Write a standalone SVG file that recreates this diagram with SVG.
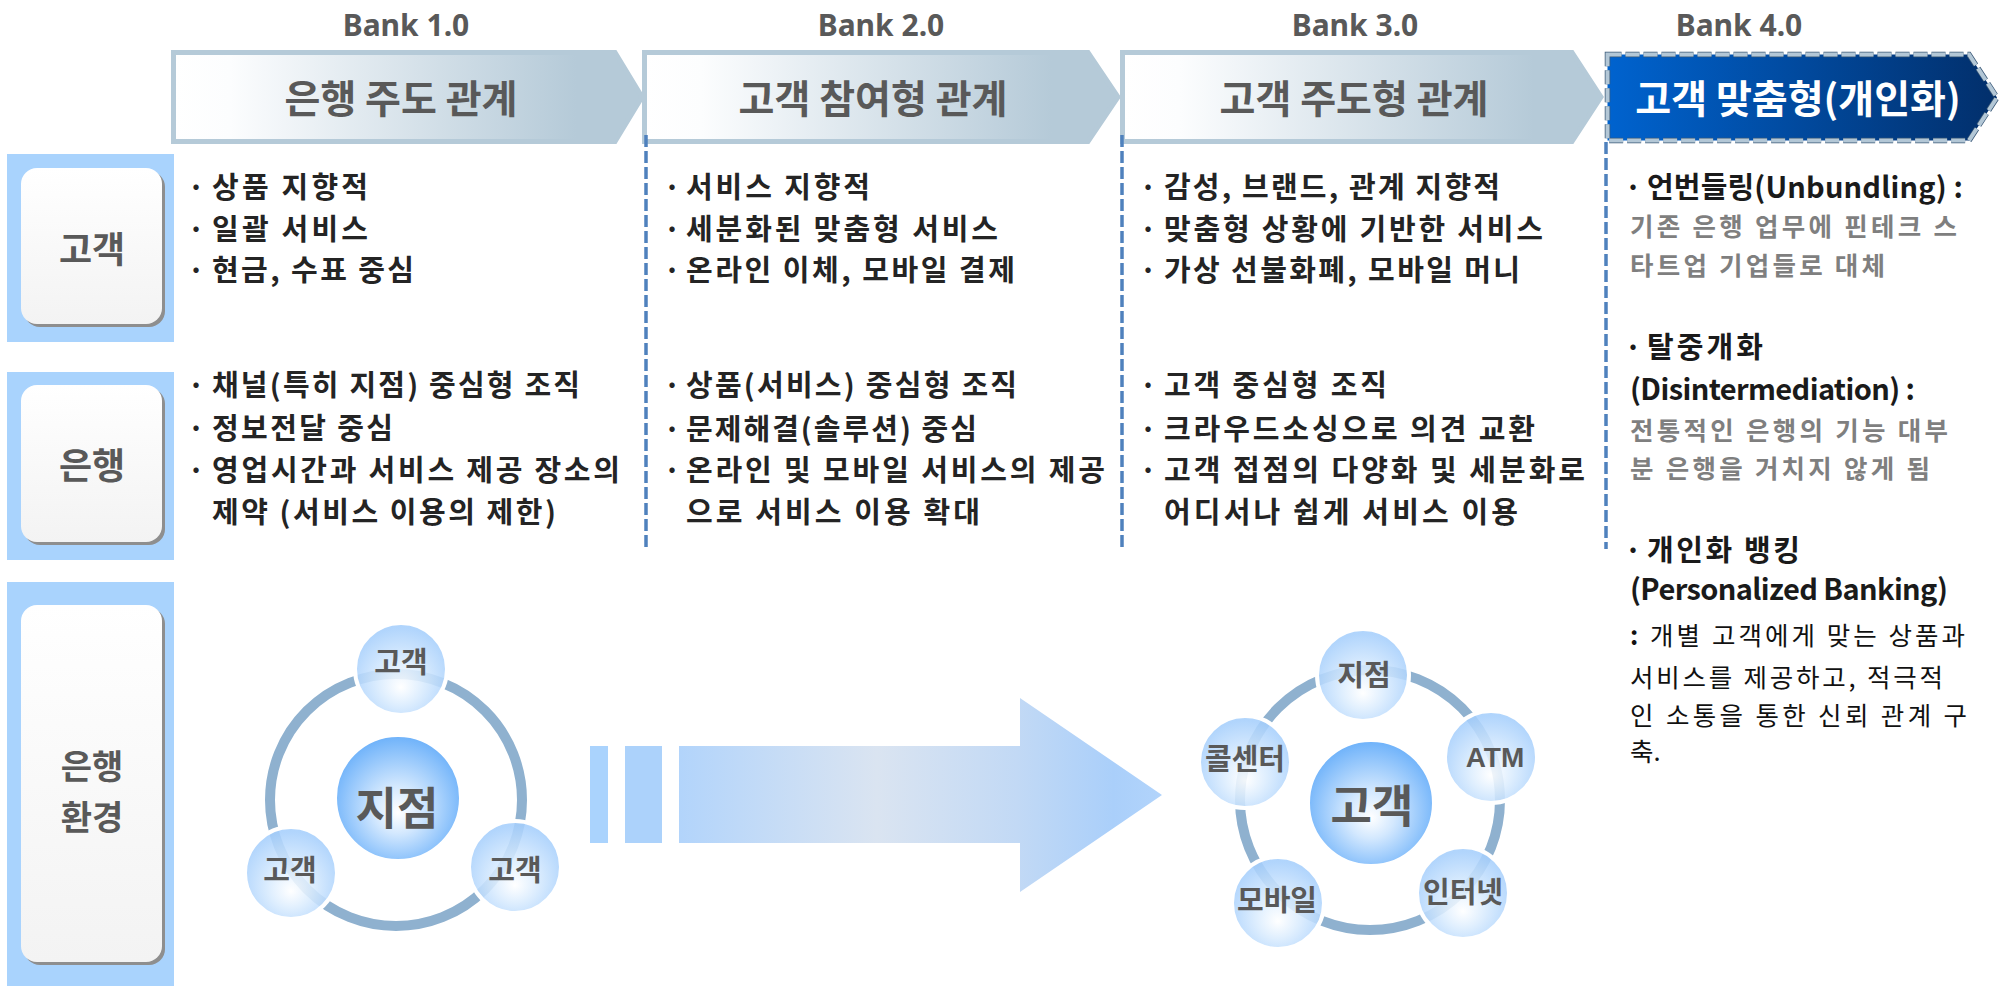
<svg xmlns="http://www.w3.org/2000/svg" width="2001" height="986" viewBox="0 0 2001 986">
<defs>
  <linearGradient id="gArr" x1="0" y1="0" x2="1" y2="0">
    <stop offset="0" stop-color="#ffffff"/>
    <stop offset="0.12" stop-color="#fcfdfe"/>
    <stop offset="0.86" stop-color="#b5cad8"/>
    <stop offset="1" stop-color="#b5cad8"/>
  </linearGradient>
  <linearGradient id="gArr4" x1="0" y1="0" x2="1" y2="0">
    <stop offset="0" stop-color="#0063cf"/>
    <stop offset="1" stop-color="#022f6b"/>
  </linearGradient>
  <linearGradient id="gBox" x1="0" y1="0" x2="0" y2="1">
    <stop offset="0" stop-color="#ffffff"/>
    <stop offset="1" stop-color="#f3f3f3"/>
  </linearGradient>
  <radialGradient id="gNode" cx="0.5" cy="0.6" r="0.55" fx="0.5" fy="0.7">
    <stop offset="0" stop-color="#ffffff"/>
    <stop offset="0.4" stop-color="#dcedfe"/>
    <stop offset="1" stop-color="#a6cffc"/>
  </radialGradient>
  <radialGradient id="gCenter" cx="0.5" cy="0.55" r="0.55" fx="0.5" fy="0.62">
    <stop offset="0" stop-color="#ffffff"/>
    <stop offset="0.35" stop-color="#d3e8fe"/>
    <stop offset="1" stop-color="#6eb2fa"/>
  </radialGradient>
  <linearGradient id="gBig" gradientUnits="userSpaceOnUse" x1="679" y1="0" x2="1162" y2="0">
    <stop offset="0" stop-color="#b2d4fb"/>
    <stop offset="0.41" stop-color="#dae4f1"/>
    <stop offset="0.7" stop-color="#c2d9f5"/>
    <stop offset="0.9" stop-color="#aacffa"/>
    <stop offset="1" stop-color="#b2d4fb"/>
  </linearGradient>
  <style>
    .hdr{font-family:"Noto Sans","Liberation Sans",sans-serif;font-weight:700;font-size:30px;fill:#595959;text-anchor:middle}
    .arr{font-family:"Noto Sans CJK KR",sans-serif;font-weight:700;font-size:39px;fill:#595959;text-anchor:middle}
    .arrw{fill:#ffffff}
    .abox{fill:url(#gArr);stroke:#b5cad8;stroke-width:5;stroke-linejoin:miter}
    .lblbg{fill:#a9d3fd}
    .shadow{fill:#8e8e8e}
    .inner{fill:url(#gBox)}
    .lbl{font-family:"Noto Sans CJK KR",sans-serif;font-weight:700;font-size:36px;fill:#595959;text-anchor:middle}
    .lbl2{font-size:34px}
    .t{font-family:"Noto Sans CJK KR",sans-serif;font-weight:700;font-size:29px;fill:#242424}
    .b{font-family:"Noto Sans CJK KR",sans-serif;font-weight:700;font-size:29px;fill:#242424;text-anchor:middle}
    .h4{font-family:"Noto Sans CJK KR",sans-serif;font-weight:700;font-size:29px;fill:#1a1a1a}
    .g4{font-family:"Noto Sans CJK KR",sans-serif;font-weight:700;font-size:25.5px;fill:#7f7f7f}
    .r4{font-family:"Noto Sans CJK KR",sans-serif;font-weight:400;font-size:25.5px;fill:#111111}
    .div{stroke:#4f81bd;stroke-width:3.5;stroke-dasharray:12 4;fill:none}
    .ring{fill:none;stroke:#8fb1cf;stroke-width:10}
    .node{fill:url(#gNode);fill-opacity:0.88;stroke:#ffffff;stroke-width:4}
    .center{fill:url(#gCenter);stroke:#ffffff;stroke-width:2}
    .nl{font-family:"Noto Sans CJK KR",sans-serif;font-weight:700;font-size:29px;fill:#595959;text-anchor:middle}
    .nlat{font-family:"Liberation Sans",sans-serif;font-weight:700;font-size:28px;fill:#595959;text-anchor:middle}
    .nc{font-family:"Noto Sans CJK KR",sans-serif;font-weight:700;font-size:45px;fill:#595959;text-anchor:middle}
  </style>
</defs>
<rect width="2001" height="986" fill="#ffffff"/>

<!-- era headers -->
<g id="era-labels">
  <text class="hdr" x="406" y="36">Bank 1.0</text>
  <text class="hdr" x="881" y="36">Bank 2.0</text>
  <text class="hdr" x="1355" y="36">Bank 3.0</text>
  <text class="hdr" x="1739" y="36">Bank 4.0</text>
</g>

<g id="arrow-bank1">
  <path class="abox" d="M173.5,52.5 L615,52.5 L642,97 L615,141.5 L173.5,141.5 Z"/>
  <text class="arr" x="401" y="113">은행 주도 관계</text>
</g>
<g id="arrow-bank2">
  <path class="abox" d="M644.5,52.5 L1088,52.5 L1118,97 L1088,141.5 L644.5,141.5 Z"/>
  <text class="arr" x="873" y="113">고객 참여형 관계</text>
</g>
<g id="arrow-bank3">
  <path class="abox" d="M1122.5,52.5 L1572,52.5 L1601,97 L1572,141.5 L1122.5,141.5 Z"/>
  <text class="arr" x="1354" y="113">고객 주도형 관계</text>
</g>
<g id="arrow-bank4">
  <path d="M1607.5,54.5 L1969,54.5 L1997,97.5 L1969,140.5 L1607.5,140.5 Z" fill="url(#gArr4)" stroke="#3a5877" stroke-width="5.5" stroke-dasharray="14 4"/>
  <path d="M1607.5,54.5 L1969,54.5 L1997,97.5 L1969,140.5 L1607.5,140.5 Z" fill="none" stroke="#b3c7d6" stroke-width="4" stroke-dasharray="14 4"/>
  <text class="arr arrw" x="1798" y="113">고객 맞춤형(개인화)</text>
</g>

<!-- row labels -->
<g id="label-customer">
  <rect class="lblbg" x="7" y="154" width="167" height="188"/>
  <rect class="shadow" x="24" y="171" width="141" height="156" rx="16"/>
  <rect class="inner" x="21" y="168" width="141" height="156" rx="16"/>
  <text class="lbl" x="92" y="263">고객</text>
</g>
<g id="label-bank">
  <rect class="lblbg" x="7" y="372" width="167" height="188"/>
  <rect class="shadow" x="24" y="388" width="141" height="157" rx="16"/>
  <rect class="inner" x="21" y="385" width="141" height="157" rx="16"/>
  <text class="lbl" x="92" y="479">은행</text>
</g>
<g id="label-environment">
  <rect class="lblbg" x="7" y="582" width="167" height="404"/>
  <rect class="shadow" x="24" y="608" width="141" height="357" rx="16"/>
  <rect class="inner" x="21" y="605" width="141" height="357" rx="16"/>
  <text class="lbl lbl2" x="92" y="779">은행</text>
  <text class="lbl lbl2" x="92" y="830">환경</text>
</g>

<!-- column 1 -->
<g id="col-bank1">
  <text class="b" x="196" y="198">·</text>
  <text class="t" x="212" y="198" textLength="156" lengthAdjust="spacing">상품 지향적</text>
  <text class="b" x="196" y="240">·</text>
  <text class="t" x="212" y="240" textLength="156" lengthAdjust="spacing">일괄 서비스</text>
  <text class="b" x="196" y="281">·</text>
  <text class="t" x="212" y="281" textLength="202" lengthAdjust="spacing">현금, 수표 중심</text>
  <text class="b" x="196" y="396">·</text>
  <text class="t" x="212" y="396" textLength="368" lengthAdjust="spacing">채널(특히 지점) 중심형 조직</text>
  <text class="b" x="196" y="439">·</text>
  <text class="t" x="212" y="439" textLength="181" lengthAdjust="spacing">정보전달 중심</text>
  <text class="b" x="196" y="481">·</text>
  <text class="t" x="212" y="481" textLength="408" lengthAdjust="spacing">영업시간과 서비스 제공 장소의</text>
  <text class="t" x="212" y="523" textLength="344" lengthAdjust="spacing">제약 (서비스 이용의 제한)</text>
</g>

<!-- column 2 -->
<g id="col-bank2">
  <text class="b" x="672" y="198">·</text>
  <text class="t" x="686" y="198" textLength="184" lengthAdjust="spacing">서비스 지향적</text>
  <text class="b" x="672" y="240">·</text>
  <text class="t" x="686" y="240" textLength="312" lengthAdjust="spacing">세분화된 맞춤형 서비스</text>
  <text class="b" x="672" y="281">·</text>
  <text class="t" x="686" y="281" textLength="329" lengthAdjust="spacing">온라인 이체, 모바일 결제</text>
  <text class="b" x="672" y="396">·</text>
  <text class="t" x="686" y="396" textLength="331" lengthAdjust="spacing">상품(서비스) 중심형 조직</text>
  <text class="b" x="672" y="440">·</text>
  <text class="t" x="686" y="440" textLength="291" lengthAdjust="spacing">문제해결(솔루션) 중심</text>
  <text class="b" x="672" y="481">·</text>
  <text class="t" x="686" y="481" textLength="419" lengthAdjust="spacing">온라인 및 모바일 서비스의 제공</text>
  <text class="t" x="686" y="523" textLength="294" lengthAdjust="spacing">으로 서비스 이용 확대</text>
</g>

<!-- column 3 -->
<g id="col-bank3">
  <text class="b" x="1148" y="198">·</text>
  <text class="t" x="1164" y="198" textLength="336" lengthAdjust="spacing">감성, 브랜드, 관계 지향적</text>
  <text class="b" x="1148" y="240">·</text>
  <text class="t" x="1164" y="240" textLength="379" lengthAdjust="spacing">맞춤형 상황에 기반한 서비스</text>
  <text class="b" x="1148" y="281">·</text>
  <text class="t" x="1164" y="281" textLength="356" lengthAdjust="spacing">가상 선불화폐, 모바일 머니</text>
  <text class="b" x="1148" y="396">·</text>
  <text class="t" x="1164" y="396" textLength="223" lengthAdjust="spacing">고객 중심형 조직</text>
  <text class="b" x="1148" y="440">·</text>
  <text class="t" x="1164" y="440" textLength="371" lengthAdjust="spacing">크라우드소싱으로 의견 교환</text>
  <text class="b" x="1148" y="481">·</text>
  <text class="t" x="1164" y="481" textLength="421" lengthAdjust="spacing">고객 접점의 다양화 및 세분화로</text>
  <text class="t" x="1164" y="523" textLength="354" lengthAdjust="spacing">어디서나 쉽게 서비스 이용</text>
</g>

<!-- column 4 -->
<g id="col-bank4">
  <text class="b" x="1633" y="198" style="fill:#1a1a1a">·</text>
  <text class="h4" x="1647" y="198" textLength="316" lengthAdjust="spacing">언번들링(Unbundling) :</text>
  <text class="g4" x="1630" y="236" textLength="327" lengthAdjust="spacing">기존 은행 업무에 핀테크 스</text>
  <text class="g4" x="1630" y="275" textLength="255" lengthAdjust="spacing">타트업 기업들로 대체</text>
  <text class="b" x="1633" y="358" style="fill:#1a1a1a">·</text>
  <text class="h4" x="1647" y="358" textLength="116" lengthAdjust="spacing">탈중개화</text>
  <text class="h4" x="1630" y="400" textLength="285" lengthAdjust="spacing">(Disintermediation) :</text>
  <text class="g4" x="1630" y="440" textLength="318" lengthAdjust="spacing">전통적인 은행의 기능 대부</text>
  <text class="g4" x="1630" y="478" textLength="300" lengthAdjust="spacing">분 은행을 거치지 않게 됨</text>
  <text class="b" x="1633" y="561" style="fill:#1a1a1a">·</text>
  <text class="h4" x="1647" y="561" textLength="153" lengthAdjust="spacing">개인화 뱅킹</text>
  <text class="h4" x="1630" y="600" textLength="318" lengthAdjust="spacing">(Personalized Banking)</text>
  <text class="r4" x="1630" y="645" textLength="335" lengthAdjust="spacing"><tspan font-weight="700">:</tspan> 개별 고객에게 맞는 상품과</text>
  <text class="r4" x="1630" y="687" textLength="313" lengthAdjust="spacing">서비스를 제공하고, 적극적</text>
  <text class="r4" x="1630" y="725" textLength="337" lengthAdjust="spacing">인 소통을 통한 신뢰 관계 구</text>
  <text class="r4" x="1630" y="761">축.</text>
</g>

<!-- dividers -->
<g id="dividers">
  <line class="div" x1="646" y1="135" x2="646" y2="549"/>
  <line class="div" x1="1122" y1="135" x2="1122" y2="549"/>
  <line class="div" x1="1606" y1="142" x2="1606" y2="549"/>
</g>

<!-- connectors (rings) -->
<g id="connectors">
  <circle class="ring" cx="396" cy="800" r="126"/>
  <circle class="ring" cx="1370" cy="800" r="130"/>
</g>

<!-- Bank 1.0 environment -->
<g id="env1-center">
  <circle class="center" cx="398" cy="798" r="62"/>
  <text class="nc" x="397" y="825">지점</text>
</g>
<g id="env1-customer-top">
  <circle class="node" cx="401" cy="669" r="46"/>
  <text class="nl" x="401" y="673">고객</text>
</g>
<g id="env1-customer-left">
  <circle class="node" cx="291" cy="873" r="46"/>
  <text class="nl" x="290" y="881">고객</text>
</g>
<g id="env1-customer-right">
  <circle class="node" cx="515" cy="867" r="46"/>
  <text class="nl" x="515" y="881">고객</text>
</g>

<!-- transition arrow -->
<g id="transition-arrow">
  <rect x="590" y="746" width="18" height="97" fill="#aad3fd"/>
  <rect x="625" y="746" width="37" height="97" fill="#acd2fb"/>
  <path d="M679,746 L1020,746 L1020,698 L1162,795 L1020,892 L1020,843 L679,843 Z" fill="url(#gBig)"/>
</g>

<!-- Bank 3.0 environment -->
<g id="env3-center">
  <circle class="center" cx="1371" cy="803" r="62"/>
  <text class="nc" x="1372" y="823">고객</text>
</g>
<g id="env3-branch">
  <circle class="node" cx="1363" cy="675" r="46"/>
  <text class="nl" x="1364" y="686">지점</text>
</g>
<g id="env3-atm">
  <circle class="node" cx="1491" cy="757" r="46"/>
  <text class="nlat" x="1495" y="767">ATM</text>
</g>
<g id="env3-internet">
  <circle class="node" cx="1463" cy="893" r="46"/>
  <text class="nl" x="1463" y="903">인터넷</text>
</g>
<g id="env3-mobile">
  <circle class="node" cx="1278" cy="903" r="46"/>
  <text class="nl" x="1277" y="911">모바일</text>
</g>
<g id="env3-callcenter">
  <circle class="node" cx="1245" cy="762" r="46"/>
  <text class="nl" x="1245" y="770">콜센터</text>
</g>
</svg>
